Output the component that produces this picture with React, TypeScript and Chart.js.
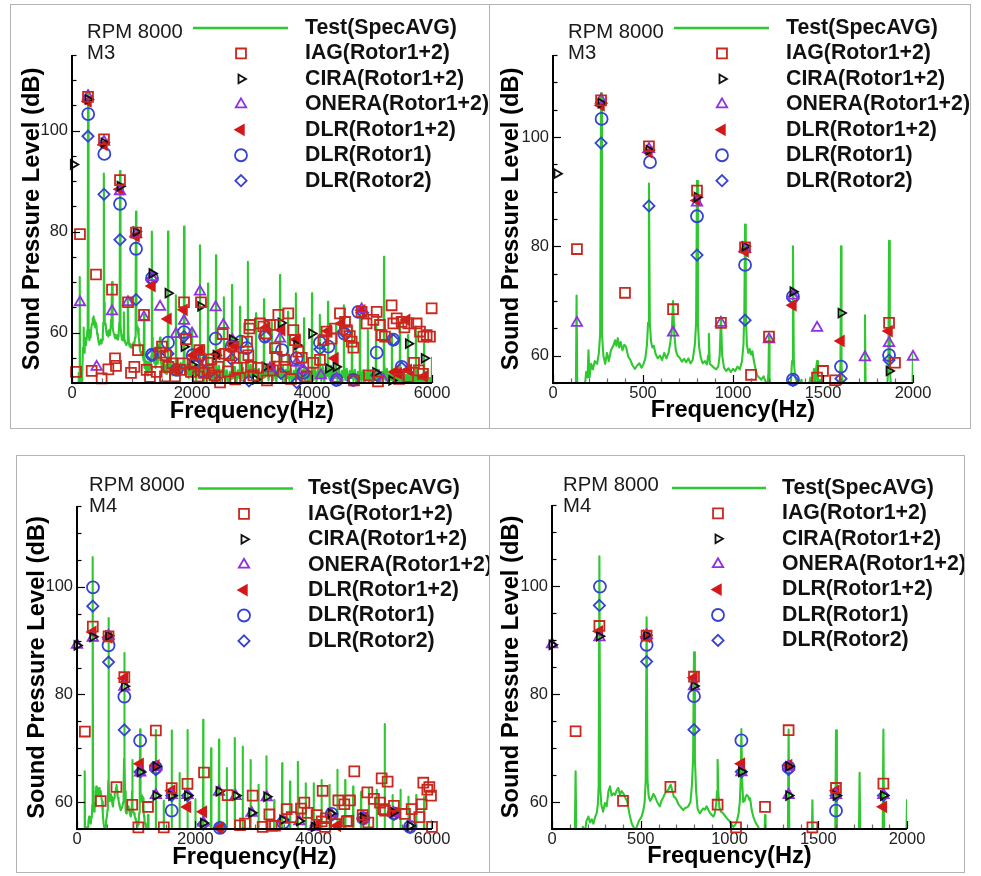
import React, { useEffect, useRef } from 'react';
import { Chart, registerables } from 'chart.js';
import { drawPoint } from 'chart.js/helpers';

Chart.register(...registerables);
Chart.defaults.font.family = '"Liberation Sans", Arial, Helvetica, sans-serif';

type P = [number, number];

// ---------- labels / ticks ----------
const seriesLabels = [
  'Test(SpecAVG)',
  'IAG(Rotor1+2)',
  'CIRA(Rotor1+2)',
  'ONERA(Rotor1+2)',
  'DLR(Rotor1+2)',
  'DLR(Rotor1)',
  'DLR(Rotor2)',
];
const rpmLabel = 'RPM 8000';
const xTicksWide = [0, 2000, 4000, 6000];
const xTicksNarrow = [0, 500, 1000, 1500, 2000];
const yTickLabels = [60, 80, 100];
const xTitle = 'Frequency(Hz)';
const yTitle = 'Sound Pressure Level (dB)';

// ---------- M3 data ----------
const testM3: P[] = [
  [0,46],[100,47],[112,52],[120,49],[127,53],[131,71],[136,49],[150,51],[165,48],[176,54],[184,57],[192,56],[197,61],[203,56],[212,58.5],[222,57.5],[232,59],[245,58.5],[255,60.5],[262,64],[267,108],[272,64],[280,60],[290,58.5],[300,60.5],[310,59],[322,61],[335,61.8],[345,62.8],[352,61.8],[360,63.2],[368,61.5],[376,62.5],[386,61],[396,62],[406,61.6],[418,59.8],[430,59.2],[442,58.2],[455,57.6],[468,58.2],[480,58.6],[492,57.8],[503,58.5],[513,59.5],[522,62],[528,66],[533,91.5],[538,66],[545,62.5],[552,61.5],[560,61.8],[570,60.3],[582,59.5],[594,60],[606,59.2],[618,60.5],[630,59.5],[642,60.5],[652,62.5],[660,64.5],[667,70],[674,64],[682,61],[692,60],[704,59.6],[716,58.9],[728,59.4],[740,58.8],[752,59.5],[764,58.6],[776,59.2],[788,62],[795,66],[800,92],[805,66],[812,61.5],[822,59.5],[832,58.6],[844,59],[855,58.4],[862,60],[866,64],[871,58.5],[882,58.2],[894,57.8],[906,57.5],[918,58],[926,60],[933,67],[940,60],[950,57.8],[962,57.2],[975,57.7],[988,57],[1000,57.6],[1012,57.2],[1025,58],[1038,57.5],[1050,59],[1058,62],[1063,68],[1067,84],[1071,68],[1077,62],[1085,60.5],[1093,61.2],[1100,60.2],[1108,60.8],[1115,59.2],[1124,57.8],[1133,56.5],[1145,56],[1157,55.6],[1170,56.2],[1182,55.2],[1192,54.5],[1197,57],[1200,63.5],[1203,56],[1212,53],[1225,54.5],[1238,52],[1250,54.2],[1262,51.5],[1275,53.5],[1288,52.5],[1300,54.5],[1312,53],[1322,55.5],[1328,59],[1333,80],[1338,59],[1345,56.2],[1355,55.2],[1368,54],[1380,55.6],[1393,53],[1405,55],[1418,53.8],[1430,56],[1440,54.5],[1450,57.6],[1457,55],[1463,58],[1467,59],[1472,54],[1483,55.6],[1495,53],[1508,54.6],[1520,52.5],[1533,54],[1546,52],[1558,53.5],[1570,51.8],[1582,54.2],[1592,55],[1597,58],[1600,80],[1603,58],[1610,54],[1622,52.5],[1635,54.2],[1648,51.8],[1660,53.5],[1672,51.5],[1685,53],[1698,51.8],[1710,53.8],[1722,52.5],[1729,55],[1733,67.4],[1737,54],[1748,52],[1760,53.5],[1772,51.5],[1785,53],[1798,51.8],[1810,54],[1822,52.2],[1835,53.8],[1848,52.5],[1858,55],[1863,58],[1867,81],[1871,58],[1880,53],[1892,51.5],[1905,53.5],[1918,51.8],[1930,53.8],[1943,51],[1955,53],[1968,51.5],[1980,53.2],[1992,52],[1997,54],[2000,60.4],[2003,53],
  [2020,51],[2045,53.5],[2070,50.5],[2095,52.8],[2115,51.5],[2129,55],[2133,77.3],[2137,54],
  [2155,51.5],[2180,53.2],[2205,50.2],[2230,52.6],[2250,51],[2263,54],[2267,69.7],[2271,53],
  [2290,50.5],[2315,52.8],[2340,49.8],[2365,52.2],[2385,50.8],[2396,55],[2400,75.3],[2404,54],
  [2425,51],[2450,53.4],[2475,50],[2500,52.6],[2518,51.2],[2529,54],[2533,67],[2537,53],
  [2555,50.3],[2580,52.5],[2605,49.6],[2630,52.2],[2650,50.8],[2663,55],[2667,69.4],[2671,54],
  [2690,51],[2715,53.2],[2740,50],[2765,52.5],[2785,51],[2796,54],[2800,65.1],[2804,53],
  [2825,50.5],[2850,53],[2875,50],[2900,52.5],[2918,51.2],[2929,55],[2933,74],[2937,54],
  [2955,51],[2980,53.6],[3005,50.4],[3030,52.8],[3050,51.5],[3063,54],[3067,63.8],[3071,53],
  [3090,50.2],[3115,52.8],[3140,49.8],[3165,52.4],[3185,51],[3196,54.5],[3200,66.6],[3204,53.5],
  [3225,51.2],[3250,53.8],[3275,50.5],[3300,53],[3318,51.5],[3329,54],[3333,62.1],[3337,53],
  [3355,50.6],[3380,53.4],[3405,50.2],[3430,52.8],[3450,51.2],[3463,55],[3467,71.4],[3471,54],
  [3490,51],[3515,53.5],[3540,50.3],[3565,52.6],[3585,51],[3596,54],[3600,64.1],[3604,53],
  [3625,50.4],[3650,52.8],[3675,49.8],[3700,52.4],[3718,51],[3729,54.5],[3733,67.8],[3737,53.5],
  [3755,50.8],[3780,53],[3805,50],[3830,52.5],[3850,51],[3863,54],[3867,62.8],[3871,53],
  [3890,50.4],[3915,52.8],[3940,49.8],[3965,52.2],[3985,50.8],[3996,54.5],[4000,67.8],[4004,53.5],
  [4025,50.6],[4050,53],[4075,50.2],[4100,52.6],[4118,51.2],[4129,54],[4133,63.5],[4137,53],
  [4155,50.4],[4180,53.2],[4205,50],[4230,52.8],[4250,51.4],[4263,54.5],[4267,66.1],[4271,53.5],
  [4290,50.8],[4315,53.4],[4340,50.2],[4365,52.6],[4385,51],[4396,54],[4400,61.8],[4404,53],
  [4425,50.5],[4450,53],[4475,49.8],[4500,52.4],[4518,51.2],[4529,54.5],[4533,65.4],[4537,53.5],
  [4555,50.6],[4580,52.8],[4605,50],[4630,52.4],[4650,51],[4663,54],[4667,61.2],[4671,53],
  [4690,50.4],[4715,52.6],[4740,49.6],[4765,52.2],[4785,50.8],[4796,54],[4800,63.5],[4804,53],
  [4825,50.2],[4850,52.5],[4875,49.8],[4900,52],[4918,50.6],[4929,53.5],[4933,60.5],[4937,52.5],
  [4955,50],[4980,52.4],[5005,49.6],[5030,52],[5050,50.6],[5063,53.5],[5067,61.8],[5071,52.5],
  [5090,50.2],[5115,52.6],[5140,49.8],[5165,52.2],[5185,51],[5196,55],[5200,75],[5204,54],
  [5225,50.5],[5250,52.8],[5275,49.8],[5300,52],[5318,50.6],[5329,53.5],[5333,59.8],[5337,52.5],
  [5355,50],[5380,52.4],[5405,49.5],[5430,51.8],[5450,50.4],[5463,53.5],[5467,62.1],[5471,52.5],
  [5490,49.8],[5515,52.2],[5540,49.4],[5565,51.6],[5585,50.2],[5596,53],[5600,59.5],[5604,52],
  [5625,49.6],[5650,51.8],[5675,49.2],[5700,51.4],[5718,50],[5729,53],[5733,61.2],[5737,52],
  [5755,49.5],[5780,51.6],[5805,49],[5830,51.2],[5850,50],[5863,52.5],[5867,57.9],[5871,51.5],
  [5890,49.2],[5915,51.2],[5940,48.8],[5965,51],[5985,49.8],[5996,52],[6000,55.2],
];

const iagM3: P[] = [
  [67,52.2],[133,79.5],[267,106.7],[328,52.4],[400,71.5],[494,50.9],[533,98.3],[606,52.7],[667,68.5],[717,54.9],[733,53.4],[800,90.2],[933,66],[983,52],[1039,53.2],[1067,79.8],[1100,56.5],[1200,63.5],[1244,52.6],[1300,51.2],[1411,52.2],[1467,56],[1500,57.2],[1550,51.3],[1567,55.5],[1606,53.2],[1672,53.9],[1717,51.3],[1800,52.6],[1844,53.9],[1867,66],[1900,58.7],[1983,52.2],
  [2050,53.8],[2100,51.3],[2122,56.5],[2150,66],[2200,52],[2260,54],[2280,52.5],[2317,54.7],[2330,51],[2380,51.5],[2440,53.2],[2467,50.1],[2511,59.7],[2560,55.8],[2600,52.3],[2620,55.5],[2689,57.2],[2720,50.7],[2750,53],[2800,51],[2860,55],[2917,58.2],[2939,55.5],[2956,60.8],[2966,61.5],[2983,53.2],[3022,51.5],[3100,53],[3133,61.8],[3189,61.2],[3227,59.8],[3250,50.5],[3300,61.5],[3350,52.5],[3383,56.9],[3411,55.2],[3439,63.5],[3539,54.6],[3560,53.2],[3605,63.8],[3650,50.8],[3689,60.5],[3716,58.5],[3772,56.2],[3830,55],[3911,51.3],[4020,54],[4133,54.6],[4189,58.5],[4244,60.2],[4327,58.8],[4383,60.8],[4466,63.8],[4550,62.1],[4580,60.5],[4630,59.3],[4661,58.2],[4690,57],[4700,50.5],[4827,64.1],[4910,61.8],[4950,51.5],[5022,62.5],[5078,64.1],[5100,50.3],[5133,61.5],[5160,59.5],[5216,59.2],[5327,65.4],[5355,61.8],[5411,62.8],[5450,50.8],[5494,62.1],[5540,61],[5600,51.2],[5605,61.8],[5700,54],[5744,61.8],[5780,52.5],[5800,60.2],[5850,51.8],[5855,59.2],[5911,59.5],[5966,59.2],[5994,64.8],
];
const ciraM3: P[] = [
  [22,93.3],[267,106.2],[533,97.6],[800,89],[1067,80],[1333,71.7],[1600,67.8],[1867,57.2],[2000,53.6],[2144,65.2],[2400,55.5],[2672,58.6],[3060,50.7],[3216,53.2],[3483,61.9],[3744,57.5],[3994,59.8],[4272,52.9],[4400,53.2],[5060,52.1],[5328,50.5],[5606,57.8],[5870,54.9],
];
const oneraM3: P[] = [
  [133,66],[267,106.8],[411,53.2],[533,97.8],[667,64.2],[800,88],[933,66],[1067,79.5],[1200,63],[1333,71],[1467,65.1],[1733,59.7],[1867,62.3],[2000,59.8],[2133,68.1],[2394,65],[2522,61.5],[2672,58.5],[3300,52.9],[3466,58.8],[3744,54],[3856,52.6],[4150,51.5],[4410,50.8],[4828,64.6],[5189,50.6],
];
const dlr12M3: P[] = [
  [267,105.8],[533,97.2],[800,88.4],[1067,79.1],[1333,69.2],[1600,62.7],[1744,52.6],[1867,64.5],[2022,55.5],[2133,56.5],[2411,55.7],[2689,57.5],[3244,61],[3327,53.2],[3494,60.5],[3744,58.6],[4272,60.3],[4383,54.9],[4494,61.8],[4828,64.4],[5383,52.2],[5438,51.9],[5578,62.5],[5605,52.6],[5870,51.3],
];
const dlr1M3: P[] = [
  [270,103.3],[539,95.4],[800,85.5],[1067,76.6],[1333,70.8],[1333,55.6],[1600,58],[1744,52.6],[1867,60.1],[2011,55.5],[2117,55.5],[2161,52.4],[2394,58.8],[2661,57.3],[2817,58.2],[2911,56.9],[3217,59.2],[3500,56.5],[3744,54.9],[3856,52],[4133,58],[4272,57.2],[4411,50.6],[4539,59.8],[4689,50.6],[4772,64.1],[5078,56],[5356,58.6],[5494,53.2],
];
const dlr2M3: P[] = [
  [267,98.9],[533,87.4],[800,78.4],[1067,66.5],[1333,70.5],[1333,55.5],[1600,55.8],[1867,59.2],[2133,54.9],[2383,50.9],[2661,54.7],[2950,50.4],[3233,59.2],[3483,51.9],[3744,50.1],[3856,52.4],[4133,56.7],[4400,50.5],[4522,60.2],[4689,50.5],[4844,63.9],[5078,51.5],[5356,58.5],[5494,53],
];

// ---------- M4 data ----------
const testM4: P[] = [
  [0,46],[122,47],[128,52],[133,65.7],[138,50],[152,51],[165,53],[174,55.4],[184,54],[194,56.5],[205,57.3],[214,56.2],[224,56.8],[233,56],[243,57.2],[252,58],[258,59.5],[263,63],[267,105.5],[271,63],[278,59.5],[288,58.2],[298,59.8],[308,59.2],[318,62],[327,62.9],[336,61.2],[346,61.6],[355,61.3],[365,62.2],[374,62.6],[382,61.4],[392,62],[402,61.6],[413,60.8],[424,60.1],[436,57.8],[449,56],[462,55.2],[470,54.6],[477,55.4],[490,56.5],[505,57.3],[515,58.5],[522,60],[528,64],[533,94.2],[538,64],[545,61],[553,60.2],[562,60.7],[571,61.5],[580,61],[590,60.2],[599,59.6],[608,59.2],[616,60.2],[626,60.8],[637,61.6],[647,62],[656,62.3],[662,62.8],[669,63.2],[677,62.2],[686,61],[694,60.8],[702,60.4],[712,59.6],[722,59.2],[731,58.8],[740,58.5],[750,58.9],[760,59],[768,59.2],[780,60],[788,63],[795,68],[800,87.7],[805,68],[812,62],[820,58.8],[827,58.2],[834,57.9],[842,58.4],[852,58.8],[862,58.6],[871,59.2],[880,58.6],[890,58],[900,57.6],[909,57.3],[918,58],[926,60],[930,62],[933,67.8],[937,62],[943,59],[952,58.2],[965,57.9],[975,57.4],[985,57],[993,56.7],[1002,56.4],[1012,55.8],[1022,55.4],[1032,55.8],[1042,56.5],[1052,58],[1058,60],[1063,64],[1067,73.5],[1071,64],[1077,60],[1085,60.2],[1091,61],[1097,61.3],[1106,61],[1112,60.4],[1116,60.7],[1125,58.5],[1134,57.3],[1142,56.6],[1150,56],[1162,55.4],[1172,54.2],[1185,52],[1195,51],[1197,53],[1200,57.6],[1203,52],[1215,50],
  [1328,50],[1333,73.4],[1338,50],[1462,50],[1467,60.3],[1472,50],[1595,50],[1600,73.3],[1605,50],[1728,50],[1733,65.4],[1738,50],[1862,50],[1867,73.4],[1872,50],[1995,50],[2000,60.5],[2005,50],
  [2129,50],[2133,75.3],[2137,50],[2262,50],[2267,70],[2272,50],[2395,50],[2400,71.6],[2405,50],[2529,50],[2533,66.3],[2537,50],[2662,50],[2667,71.9],[2672,50],[2795,50],[2800,70.3],[2805,50],[2929,50],[2933,67.8],[2937,50],
  [3062,50],[3067,63.2],[3072,50],[3195,50],[3200,68.5],[3205,50],[3329,50],[3333,60.4],[3337,50],[3462,50],[3467,67.2],[3472,50],[3595,50],[3600,63.8],[3605,50],[3729,50],[3733,67.5],[3737,50],[3862,50],[3867,63.5],[3872,50],[3995,50],[4000,63.5],[4005,50],
  [4129,50],[4133,64.1],[4137,50],[4262,50],[4267,63.2],[4272,50],[4395,50],[4400,66],[4405,50],[4529,50],[4533,64.1],[4537,50],[4662,50],[4667,62.9],[4672,50],[4795,50],[4800,61.9],[4805,50],[4929,50],[4933,62.6],[4937,50],
  [5062,50],[5067,62.3],[5072,50],[5195,50],[5200,74.5],[5205,50],[5329,50],[5333,61.3],[5337,50],[5462,50],[5467,62.3],[5472,50],[5595,50],[5600,61],[5605,50],[5729,50],[5733,61.3],[5737,50],[5862,50],[5867,61],[5872,50],[5995,50],[6000,56.7],
];
const iagM4: P[] = [
  [133,73.1],[267,92.6],[400,60.2],[533,90.8],[667,62.8],[800,83.2],[933,59.5],[1037,55.3],[1200,59.1],[1333,73.3],[1467,55.3],[1600,62.6],[1867,63.4],[2147,65.5],[2546,61.3],[2755,55.7],[2839,56],[2969,61.2],[3138,55.4],[3251,57.7],[3290,55.6],[3346,55.6],[3544,58.7],[3628,57.2],[3786,58.8],[3842,59.9],[3898,58],[4050,57.6],[4135,56.4],[4152,62.1],[4191,55.4],[4208,57],[4377,55.9],[4417,60.3],[4518,59.6],[4558,56.4],[4586,56.5],[4614,60.3],[4687,65.7],[4828,57.6],[4907,61.8],[4924,56.2],[5019,60.6],[5121,59.9],[5149,64.4],[5177,58.7],[5205,58.4],[5250,63.8],[5357,59.3],[5543,57.8],[5656,58.7],[5786,57.2],[5825,59.6],[5853,63.6],[5921,62.3],[5955,62.8],[5983,61.2],[6000,55.4],
];
const ciraM4: P[] = [
  [0,89.1],[267,90.7],[533,90.9],[800,81.5],[1067,65.6],[1333,61.2],[1333,66.6],[1600,61.2],[1867,61.2],[2135,56.1],[2400,62],[2682,61.2],[2952,58],[3206,61],[3476,56.7],[3758,56.5],[4006,55.4],[4293,57.9],[4839,57.1],[5347,58.1],[5628,55.6],
];
const oneraM4: P[] = [
  [0,89.2],[267,90.5],[533,90.9],[800,81.4],[1067,65.5],[1333,61.3],[1333,66.5],[1600,61.3],[1867,61.3],[2135,56.2],[2400,61.9],[2682,61.1],[2952,58],[3206,60.9],[3476,56.7],[3758,56.4],[4006,55.4],[4293,57.8],[4839,57],[5347,58],[5628,55.5],
];
const dlr12M4: P[] = [
  [267,91.6],[533,90.6],[800,83],[1067,67.1],[1333,66.8],[1600,62.1],[1867,59.1],[2135,58.2],[2417,55.2],[4050,55.7],[4400,55.6],[4839,57],[5357,58],
];
const dlr1M4: P[] = [
  [270,99.9],[533,89.1],[800,79.6],[1067,71.4],[1333,66.4],[1600,58.4],[2417,55.2],[3487,56.2],[4304,57.8],[4839,57],[5357,57.9],[5628,55.4],
];
const dlr2M4: P[] = [
  [267,96.4],[533,86],[800,73.4],[1067,65.6],[1333,66],[1600,61.2],[1867,61.2],[2135,55.9],[2417,55.3],[4300,57.5],[4839,56.8],[5357,57.7],[5628,55.3],
];

const seriesM3 = [testM3, iagM3, ciraM3, oneraM3, dlr12M3, dlr1M3, dlr2M3];
const seriesM4 = [testM4, iagM4, ciraM4, oneraM4, dlr12M4, dlr1M4, dlr2M4];

// ---------- styles ----------
const seriesStyles: any[] = [
  { kind: 'line', color: '#30c830' },
  { pointStyle: 'rect', rotation: 0, radius: 7, color: '#c8281e', fill: false },
  { pointStyle: 'triangle', rotation: 90, radius: 5, color: '#111111', fill: false },
  { pointStyle: 'triangle', rotation: 0, radius: 6, color: '#9030e0', fill: false },
  { pointStyle: 'triangle', rotation: -90, radius: 5.6, color: '#d41818', fill: true },
  { pointStyle: 'circle', rotation: 0, radius: 6, color: '#3542d4', fill: false },
  { pointStyle: 'rectRot', rotation: 0, radius: 5.6, color: '#3542d4', fill: false },
];
const MARKER_LW = 1.8;

type Panel = {
  box: { x: number; y: number; w: number; h: number };
  area: { l: number; r: number; t: number; b: number };
  xr: [number, number];
  yr: [number, number];
  xTicks: number[];
  xMinor: number;
  yTitleX: number;
  xTitleY: number;
  mic: string;
  series: P[][];
  lg: { lineX0: number; lineX1: number; markerX: number; textX: number; row0: number; step: number; rpmX: number; rpmY: number; mY: number };
};

const panels: Panel[] = [
  {
    box: { x: 10, y: 4, w: 480, h: 425 },
    area: { l: 72, r: 432, t: 55, b: 383 },
    xr: [0, 6000], yr: [50, 115], xTicks: xTicksWide, xMinor: 500,
    yTitleX: 32, xTitleY: 411.5, mic: 'M3', series: seriesM3,
    lg: { lineX0: 193, lineX1: 288, markerX: 241, textX: 305, row0: 28, step: 25.45, rpmX: 87, rpmY: 32, mY: 53.5 },
  },
  {
    box: { x: 489, y: 4, w: 482, h: 425 },
    area: { l: 553, r: 913, t: 55, b: 383 },
    xr: [0, 2000], yr: [55, 115], xTicks: xTicksNarrow, xMinor: 100,
    yTitleX: 511.7, xTitleY: 410.5, mic: 'M3', series: seriesM3,
    lg: { lineX0: 674, lineX1: 769, markerX: 722, textX: 786, row0: 28, step: 25.45, rpmX: 568, rpmY: 32, mY: 53.5 },
  },
  {
    box: { x: 16, y: 455, w: 475, h: 418 },
    area: { l: 77, r: 432, t: 506, b: 829 },
    xr: [0, 6000], yr: [55, 115], xTicks: xTicksWide, xMinor: 500,
    yTitleX: 37, xTitleY: 857.5, mic: 'M4', series: seriesM4,
    lg: { lineX0: 198, lineX1: 293, markerX: 244, textX: 308, row0: 488.5, step: 25.4, rpmX: 89, rpmY: 485, mY: 506.5 },
  },
  {
    box: { x: 489, y: 455, w: 476, h: 418 },
    area: { l: 552, r: 907, t: 505, b: 829 },
    xr: [0, 2000], yr: [55, 115], xTicks: xTicksNarrow, xMinor: 100,
    yTitleX: 511.7, xTitleY: 856.5, mic: 'M4', series: seriesM4,
    lg: { lineX0: 672, lineX1: 766, markerX: 718, textX: 782, row0: 488, step: 25.4, rpmX: 563, rpmY: 485, mY: 506.5 },
  },
];

const FONT = '"Liberation Sans", Arial, Helvetica, sans-serif';

function makeDeco(p: Panel, ox: number, oy: number) {
  return {
    id: 'panelDeco',
    afterDatasetsDraw(chart: any) {
      const { ctx, chartArea: ca, scales } = chart;
      const x = scales.x;
      const y = scales.y;
      ctx.save();
      ctx.strokeStyle = '#000';
      ctx.lineWidth = 1.2;
      for (let v = p.yr[0]; v <= p.yr[1] + 1e-9; v += 5) {
        const py = Math.round(y.getPixelForValue(v)) + 0.5;
        const len = yTickLabels.includes(v) ? 8 : 4.5;
        ctx.beginPath();
        ctx.moveTo(ca.left, py);
        ctx.lineTo(ca.left + len, py);
        ctx.stroke();
      }
      for (let v = p.xr[0]; v <= p.xr[1] + 1e-9; v += p.xMinor) {
        const px = Math.round(x.getPixelForValue(v)) + 0.5;
        const major = p.xTicks.includes(v);
        ctx.strokeStyle = major ? '#000' : '#666';
        const len = major ? 8 : 4.5;
        ctx.beginPath();
        ctx.moveTo(px, ca.bottom);
        ctx.lineTo(px, ca.bottom - len);
        ctx.stroke();
      }
      ctx.strokeStyle = '#000';
      ctx.lineWidth = 2;
      ctx.beginPath();
      ctx.moveTo(ca.left, ca.top);
      ctx.lineTo(ca.left, ca.bottom);
      ctx.lineTo(ca.right, ca.bottom);
      ctx.stroke();
      ctx.restore();
    },
    afterDraw(chart: any) {
      const { ctx } = chart;
      const lg = p.lg;
      ctx.save();
      ctx.textAlign = 'left';
      ctx.textBaseline = 'middle';
      ctx.fillStyle = '#1a1a1a';
      ctx.font = `20.3px ${FONT}`;
      ctx.fillText(rpmLabel, lg.rpmX - ox, lg.rpmY - oy);
      ctx.fillText(p.mic, lg.rpmX - ox, lg.mY - oy);
      seriesLabels.forEach((lab, i) => {
        const yy = lg.row0 + i * lg.step - oy;
        const st = seriesStyles[i];
        if (st.kind === 'line') {
          ctx.strokeStyle = st.color;
          ctx.lineWidth = 2.4;
          ctx.beginPath();
          ctx.moveTo(lg.lineX0 - ox, yy);
          ctx.lineTo(lg.lineX1 - ox, yy);
          ctx.stroke();
        } else {
          ctx.strokeStyle = st.color;
          ctx.fillStyle = st.fill ? st.color : 'rgba(0,0,0,0)';
          ctx.lineWidth = MARKER_LW;
          drawPoint(ctx, { pointStyle: st.pointStyle, rotation: st.rotation, radius: st.radius, borderWidth: MARKER_LW } as any, lg.markerX - ox, yy);
        }
        ctx.fillStyle = '#111';
        ctx.font = `bold 21.3px ${FONT}`;
        ctx.fillText(lab, lg.textX - ox, yy);
      });
      ctx.restore();
    },
  };
}

function PanelChart({ p }: { p: Panel }) {
  const ref = useRef<HTMLCanvasElement | null>(null);
  const cw = p.box.w - 2;
  const ch = p.box.h - 2;
  const ox = p.box.x + 1;
  const oy = p.box.y + 1;

  useEffect(() => {
    if (!ref.current) return;
    const datasets = p.series.map((pts, i) => {
      const st = seriesStyles[i];
      if (i === 0) {
        return {
          label: seriesLabels[i],
          data: pts.map(([x, y]) => ({ x, y })),
          showLine: true,
          borderColor: st.color,
          backgroundColor: st.color,
          borderWidth: 2.1,
          borderJoinStyle: 'round',
          pointRadius: 0,
          pointHoverRadius: 0,
          tension: 0,
          clip: 0,
          order: 10,
        };
      }
      const data = pts
        .filter(([x, y]) => x >= p.xr[0] && x <= p.xr[1] && y >= p.yr[0] && y <= p.yr[1])
        .map(([x, y]) => ({ x, y }));
      const bg = st.fill ? st.color : 'rgba(0,0,0,0)';
      return {
        label: seriesLabels[i],
        data,
        showLine: false,
        pointStyle: st.pointStyle,
        pointRotation: st.rotation,
        pointRadius: st.radius,
        pointHoverRadius: st.radius,
        pointBorderWidth: MARKER_LW,
        pointBorderColor: st.color,
        pointBackgroundColor: bg,
        borderColor: st.color,
        backgroundColor: bg,
        clip: false,
        order: i,
      };
    });

    const tickFont = { size: 16.5, family: FONT };
    const titleFont = { size: 23.7, weight: 'bold' as const, family: FONT };
    const yW = p.area.l - ox;
    const xH = ch - (p.area.b - oy);
    const yTitlePad = Math.max(0, p.yTitleX - ox - 23.7 * 1.2 / 2);
    const xTitlePad = Math.max(0, ch - (p.xTitleY - oy) - 23.7 * 1.2 / 2);

    const chart = new Chart(ref.current, {
      type: 'scatter',
      data: { datasets } as any,
      options: {
        animation: false,
        responsive: false,
        maintainAspectRatio: false,
        events: [],
        layout: { padding: { left: 0, top: p.area.t - oy, right: cw - (p.area.r - ox), bottom: 0 } },
        plugins: { legend: { display: false }, tooltip: { enabled: false } },
        scales: {
          x: {
            type: 'linear',
            min: p.xr[0],
            max: p.xr[1],
            afterBuildTicks: (s: any) => { s.ticks = p.xTicks.map((v) => ({ value: v })); },
            afterFit: (s: any) => { s.height = xH; },
            grid: { display: false, drawTicks: false },
            border: { display: false },
            ticks: { padding: 1, font: tickFont, color: '#222', maxRotation: 0, autoSkip: false, callback: (v: any) => String(v) },
            title: { display: true, text: xTitle, font: titleFont, color: '#000', padding: { top: 0, bottom: xTitlePad } },
          },
          y: {
            type: 'linear',
            min: p.yr[0],
            max: p.yr[1],
            afterBuildTicks: (s: any) => { s.ticks = yTickLabels.map((v) => ({ value: v })); },
            afterFit: (s: any) => { s.width = yW; },
            grid: { display: false, drawTicks: false },
            border: { display: false },
            ticks: { padding: 4, font: tickFont, color: '#222', autoSkip: false, callback: (v: any) => String(v) },
            title: { display: true, text: yTitle, font: titleFont, color: '#000', padding: { top: yTitlePad, bottom: 0 } },
          },
        },
      } as any,
      plugins: [makeDeco(p, ox, oy)],
    });
    return () => chart.destroy();
  }, []);

  return (
    <div
      style={{
        position: 'absolute',
        left: p.box.x,
        top: p.box.y,
        width: p.box.w,
        height: p.box.h,
        border: '1px solid #b4b4b4',
        boxSizing: 'border-box',
        background: '#fff',
      }}
    >
      <canvas ref={ref} width={cw} height={ch} style={{ display: 'block', width: cw, height: ch }} />
    </div>
  );
}

export default function App() {
  return (
    <div style={{ position: 'absolute', left: 0, top: 0, width: 981, height: 876, background: '#fff' }}>
      {panels.map((p, i) => (
        <PanelChart key={i} p={p} />
      ))}
    </div>
  );
}
